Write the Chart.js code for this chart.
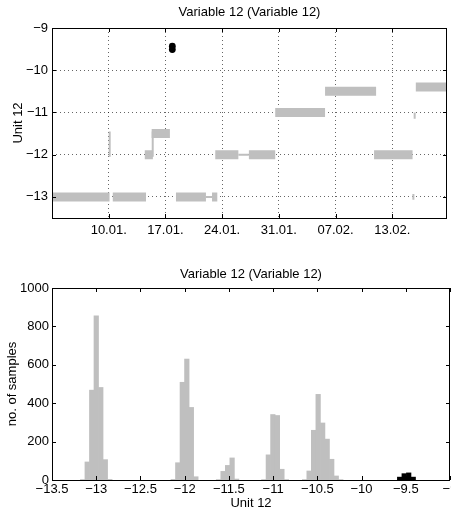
<!DOCTYPE html>
<html>
<head>
<meta charset="utf-8">
<script src="https://cdn.jsdelivr.net/npm/chart.js@4.4.1/dist/chart.umd.min.js"></script>
<style>
  html, body { margin: 0; padding: 0; background: #fff; }
  canvas { position: absolute; left: 0; }
  #top { top: 0; }
  #bottom { top: 260px; }
</style>
</head>
<body>
<canvas id="top" width="451" height="250"></canvas>
<canvas id="bottom" width="451" height="256"></canvas>
<script>
// time series: x is day of year (1 = 01.01.)
const bandStart = [3.0, 10.5, 14.45, 15.3, 18.3, 22.75, 23.15, 27.3, 30.55, 36.7, 42.75, 47.9];
const bandEnd   = [10.1, 14.6, 15.45, 17.55, 22.0, 23.4, 26.0, 30.55, 36.7, 43.0, 47.5, 51.75];
const bandLevel = [-13, -13, -12, -11.5, -13, -13, -12, -12, -11, -10.5, -12, -10.4];

// thin bits: jumps and short runs
const thinX1 = [10.12, 15.43, 22.0, 26.0, 47.6, 47.76];
const thinY1 = [-11.45, -12.05, -13, -12, -12.93, -11.0];
const thinX2 = [10.12, 15.43, 22.75, 27.3, 47.6, 47.76];
const thinY2 = [-12.05, -11.45, -13, -12, -13.07, -11.15];

// outlier samples (black)
const outX = [17.85, 17.85];
const outY = [-9.43, -9.51];

const dayTicks = [10, 17, 24, 31, 38, 45];
const dayLabels = ['10.01.', '17.01.', '24.01.', '31.01.', '07.02.', '13.02.'];
const valTicks = [-13, -12, -11, -10, -9];

// histogram
const binCenters = [-13.1532, -13.102, -13.0508, -12.9996, -12.9484, -12.8972, -12.846,
  -12.1292, -12.078, -12.0268, -11.9756, -11.9244, -11.8732,
  -11.6172, -11.566, -11.5148, -11.4636, -11.4124,
  -11.1052, -11.054, -11.0028, -10.9516, -10.9004, -10.8492,
  -10.6444, -10.5932, -10.542, -10.4908, -10.4396, -10.3884, -10.3372, -10.286, -10.2348];
const binCounts = [2, 94, 468, 855, 482, 106, 3,
  3, 90, 509, 630, 378, 17,
  2, 45, 76, 115, 5,
  2, 131, 341, 336, 56, 2,
  2, 47, 259, 446, 297, 213, 108, 21, 2];
const outBinCenters = [-9.5692, -9.518, -9.4668, -9.4156];
const outBinCounts = [15, 33, 37, 15];

const histTicks = [-13.5, -13, -12.5, -12, -11.5, -11, -10.5, -10, -9.5, -9];
const countTicks = [0, 200, 400, 600, 800, 1000];

const gray = '#bfbfbf';
const minus = v => String(v).replace('-', '\u2212');

Chart.defaults.font.family = "'Liberation Sans', Arial, sans-serif";
Chart.defaults.font.size = 13;
Chart.defaults.color = '#000';

// matlab style box with inward ticks
const boxTicks = {
  id: 'boxTicks',
  afterDraw(chart) {
    const {ctx, chartArea: a, scales} = chart;
    const len = 4;
    ctx.save();
    ctx.strokeStyle = '#000';
    ctx.lineWidth = 1;
    ctx.beginPath();
    scales.x.ticks.forEach(t => {
      const px = Math.round(scales.x.getPixelForValue(t.value)) + 0.5;
      ctx.moveTo(px, a.bottom); ctx.lineTo(px, a.bottom - len);
      ctx.moveTo(px, a.top); ctx.lineTo(px, a.top + len);
    });
    scales.y.ticks.forEach(t => {
      const py = Math.round(scales.y.getPixelForValue(t.value)) + 0.5;
      ctx.moveTo(a.left, py); ctx.lineTo(a.left + len, py);
      ctx.moveTo(a.right, py); ctx.lineTo(a.right - len, py);
    });
    ctx.stroke();
    ctx.strokeRect(Math.round(a.left) + 0.5, Math.round(a.top) + 0.5, Math.round(a.width) - 1, Math.round(a.height));
    ctx.restore();
  }
};

const bandData = [];
bandStart.forEach((s, i) => {
  bandData.push({x: s, y: bandLevel[i]}, {x: bandEnd[i], y: bandLevel[i]}, {x: bandEnd[i], y: null});
});
const thinData = [];
thinX1.forEach((x, i) => {
  thinData.push({x: x, y: thinY1[i]}, {x: thinX2[i], y: thinY2[i]}, {x: thinX2[i], y: null});
});

new Chart(document.getElementById('top'), {
  type: 'line',
  data: {
    datasets: [{
      data: bandData,
      borderColor: gray,
      borderWidth: 9,
      pointRadius: 0,
      spanGaps: false
    }, {
      data: thinData,
      borderColor: gray,
      borderWidth: 2,
      pointRadius: 0,
      spanGaps: false
    }, {
      data: outX.map((x, i) => ({x: x, y: outY[i]})),
      showLine: false,
      pointRadius: 3.4,
      pointBackgroundColor: '#000',
      pointBorderWidth: 0
    }]
  },
  options: {
    responsive: false,
    animation: false,
    layout: {padding: {right: 1}},
    plugins: {
      legend: {display: false},
      tooltip: {enabled: false},
      title: {
        display: true,
        fullSize: false,
        text: 'Variable 12 (Variable 12)',
        font: {size: 13, weight: 'normal'},
        padding: {top: 5, bottom: 7.4}
      }
    },
    scales: {
      x: {
        type: 'linear',
        min: 3.0,
        max: 51.75,
        afterBuildTicks: s => { s.ticks = dayTicks.map(v => ({value: v})); },
        afterFit: s => { s.height = 32; s.paddingLeft = 0; s.paddingRight = 0; },
        ticks: {
          padding: 5,
          maxRotation: 0,
          autoSkip: false,
          callback: (v, i) => dayLabels[i]
        },
        grid: {color: 'rgba(0,0,0,0.6)', drawTicks: false},
        border: {display: false, dash: [1, 3]}
      },
      y: {
        min: -13.5,
        max: -9,
        afterBuildTicks: s => { s.ticks = valTicks.map(v => ({value: v})); },
        afterFit: s => { s.width = 52; },
        ticks: {padding: 4, callback: v => minus(v)},
        grid: {color: 'rgba(0,0,0,0.6)', drawTicks: false},
        border: {display: false, dash: [1, 3]},
        title: {display: true, text: 'Unit 12', padding: {top: 11}}
      }
    }
  },
  plugins: [boxTicks]
});

new Chart(document.getElementById('bottom'), {
  type: 'bar',
  data: {
    datasets: [{
      data: binCenters.map((c, i) => ({x: c, y: binCounts[i]})),
      backgroundColor: gray,
      borderWidth: 0,
      barPercentage: 1,
      categoryPercentage: 1
    }, {
      data: outBinCenters.map((c, i) => ({x: c, y: outBinCounts[i]})),
      backgroundColor: '#000',
      borderWidth: 0,
      barPercentage: 1,
      categoryPercentage: 1
    }]
  },
  options: {
    responsive: false,
    animation: false,
    layout: {padding: {right: 1}},
    plugins: {
      legend: {display: false},
      tooltip: {enabled: false},
      title: {
        display: true,
        fullSize: false,
        text: 'Variable 12 (Variable 12)',
        font: {size: 13, weight: 'normal'},
        padding: {top: 7, bottom: 5.4}
      }
    },
    scales: {
      x: {
        type: 'linear',
        stacked: true,
        offset: false,
        min: -13.5,
        max: -9,
        afterBuildTicks: s => { s.ticks = histTicks.map(v => ({value: v})); },
        afterFit: s => { s.height = 36; s.paddingLeft = 0; s.paddingRight = 0; },
        ticks: {padding: 2, maxRotation: 0, autoSkip: false, callback: v => minus(v)},
        grid: {display: false, offset: false, drawTicks: false},
        border: {display: false},
        title: {display: true, text: 'Unit 12', padding: {top: 0, bottom: 5}}
      },
      y: {
        stacked: true,
        min: 0,
        max: 1000,
        afterBuildTicks: s => { s.ticks = countTicks.map(v => ({value: v})); },
        afterFit: s => { s.width = 52; },
        ticks: {padding: 3, callback: v => String(v)},
        grid: {display: false, drawTicks: false},
        border: {display: false},
        title: {display: true, text: 'no. of samples', padding: {top: 5}}
      }
    }
  },
  plugins: [boxTicks]
});
</script>
</body>
</html>
